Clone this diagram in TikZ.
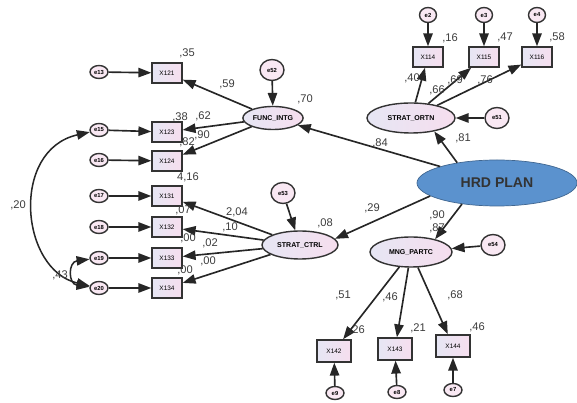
\documentclass[tikz,border=0pt]{standalone}
\usepackage{fontspec}
\setmainfont{Liberation Sans}
\usepackage{tikz}
\usetikzlibrary{shapes.geometric, arrows.meta, calc, positioning}
\definecolor{semblue}{RGB}{91,146,206}
\definecolor{semlav}{RGB}{230,230,244}
\definecolor{sempink}{RGB}{246,222,238}
\definecolor{semgrey}{RGB}{60,60,60}
\tikzset{obs/.style={draw=black!80, line width=1.2pt, rectangle, minimum width=0.9cm, minimum height=0.6cm, left color=semlav, right color=sempink, inner sep=1pt, font=\fontsize{5.5}{6}\selectfont}}
\tikzset{bigobs/.style={obs, minimum width=1.02cm, minimum height=0.66cm}}
\tikzset{err/.style={draw=black!80, line width=1.2pt, ellipse, minimum width=0.54cm, minimum height=0.39cm, inner sep=0pt, fill=sempink!70!white, font=\bfseries\fontsize{5}{6}\selectfont}}
\tikzset{bigerr/.style={err, minimum width=0.72cm, minimum height=0.63cm}}
\tikzset{lat/.style={draw=black!80, line width=1.2pt, ellipse, left color=semlav, right color=sempink, inner sep=1pt, font=\bfseries\fontsize{6}{7}\selectfont}}
\tikzset{arr/.style={color=black!85, line width=1.4pt, -{Triangle[length=11pt, width=8pt]}}}
\tikzset{cov/.style={color=black!85, line width=1.3pt, {Triangle[length=11pt, width=8pt]}-{Triangle[length=11pt, width=8pt]}}}
\tikzset{coef/.style={text=semgrey, font=\fontsize{9.5}{10}\selectfont, inner sep=0pt}}

\begin{document}
\begin{tikzpicture}[x=0.03cm, y=-0.03cm]
        \useasboundingbox (0,0) rectangle (577,403);

        % left indicators
        \node[obs] (X121) at (167,  73) {X121};
        \node[obs] (X123) at (167, 132) {X123};
        \node[obs] (X124) at (167, 161) {X124};
        \node[obs] (X131) at (167, 196) {X131};
        \node[obs] (X132) at (167, 227) {X132};
        \node[obs] (X133) at (167, 258) {X133};
        \node[obs] (X134) at (167, 288) {X134};
        \node[err] (e13) at (99,  72) {e13};
        \node[err] (e15) at (99, 130) {e15};
        \node[err] (e16) at (99, 160) {e16};
        \node[err] (e17) at (99, 196) {e17};
        \node[err] (e18) at (99, 227) {e18};
        \node[err] (e19) at (99, 258) {e19};
        \node[err] (e20) at (99, 288) {e20};

        % latent factors
        \node[lat, minimum width=1.8cm, minimum height=0.69cm] (Nfunc) at (273, 118) {FUNC\_INTG};
        \node[lat, minimum width=2.28cm, minimum height=0.84cm] (Nctrl) at (300, 245) {STRAT\_CTRL};
        \node[lat, minimum width=2.64cm, minimum height=0.9cm] (Nortn) at (411, 118) {STRAT\_ORTN};
        \node[lat, minimum width=2.46cm, minimum height=0.9cm] (Nmng) at (411, 252) {MNG\_PARTC};
        \node[draw=semblue!70!black, line width=0.6pt, ellipse, fill=semblue, minimum width=4.8cm, minimum height=1.38cm,
              text=black!80, font=\bfseries\fontsize{12}{13}\selectfont] (Nhrd) at (497, 183) {HRD PLAN};
        \node[bigerr] (e52) at (272,  70) {e52};
        \node[bigerr] (e53) at (283, 193) {e53};
        \node[bigerr] (e51) at (497, 118) {e51};
        \node[bigerr] (e54) at (493, 245) {e54};

        % top and bottom indicators
        \node[obs] (X114) at (428, 57) {X114};
        \node[obs] (X115) at (484, 57) {X115};
        \node[obs] (X116) at (537, 57) {X116};
        \node[err, minimum width=0.51cm, minimum height=0.45cm] (e2) at (428, 15) {e2};
        \node[err, minimum width=0.51cm, minimum height=0.45cm] (e3) at (484, 15) {e3};
        \node[err, minimum width=0.51cm, minimum height=0.45cm] (e4) at (537, 15) {e4};
        \node[bigobs] (X142) at (334, 351) {X142};
        \node[bigobs] (X143) at (395, 349) {X143};
        \node[bigobs] (X144) at (453, 346) {X144};
        \node[err] (e9) at (335, 393) {e9};
        \node[err] (e8) at (397, 392) {e8};
        \node[err] (e7) at (453, 390) {e7};

        \draw [arr] (e13) -- (X121);
        \draw [arr] (e15) -- (X123);
        \draw [arr] (e16) -- (X124);
        \draw [arr] (e17) -- (X131);
        \draw [arr] (e18) -- (X132);
        \draw [arr] (e19) -- (X133);
        \draw [arr] (e20) -- (X134);
        \draw [arr] (Nfunc) -- (X121);
        \draw [arr] (Nfunc) -- (X123);
        \draw [arr] (Nfunc) -- (X124);
        \draw [arr] (Nctrl) -- (X131);
        \draw [arr] (Nctrl) -- (X132);
        \draw [arr] (Nctrl) -- (X133);
        \draw [arr] (Nctrl) -- (X134);
        \draw [arr] (e52) -- (Nfunc);
        \draw [arr] (e53) -- (Nctrl);
        \draw [arr] (e51) -- (Nortn);
        \draw [arr] (e54) -- (Nmng);
        \draw [arr] (Nhrd) -- (Nfunc);
        \draw [arr] (Nhrd.191) -- (Nctrl.10);
        \draw [arr] (Nhrd.153) -- (Nortn.330);
        \draw [arr] (Nhrd.211) -- (Nmng.28);
        \draw [arr] (Nortn) -- (X114);
        \draw [arr] (Nortn) -- (X115);
        \draw [arr] (Nortn) -- (X116);
        \draw [arr] (e2) -- (X114);
        \draw [arr] (e3) -- (X115);
        \draw [arr] (e4) -- (X116);
        \draw [arr] (Nmng) -- (X142);
        \draw [arr] (Nmng) -- (X143);
        \draw [arr] (Nmng) -- (X144);
        \draw [arr] (e9) -- (X142);
        \draw [arr] (e8) -- (X143);
        \draw [arr] (e7) -- (X144);
        \draw [cov] (e15) .. controls (10, 150) and (20, 270) .. (e20);
        \draw [cov] (e19) .. controls (68, 262) and (68, 284) .. (e20);

        % estimates
        \node[coef] (rX121) at (187,  53) {,35};
        \node[coef] (rX123) at (180, 117) {,38};
        \node[coef] (rX124) at (187, 142) {,82};
        \node[coef] (rX131) at (188, 177) {4,16};
        \node[coef] (rX132) at (183, 210) {,07};
        \node[coef] (rX133) at (188, 238) {,00};
        \node[coef] (rX134) at (185, 270) {,00};
        \node[coef] (wX121) at (227,  84) {,59};
        \node[coef] (wX123) at (203, 116) {,62};
        \node[coef] (wX124) at (202, 135) {,90};
        \node[coef] (wX131) at (237, 212) {2,04};
        \node[coef] (wX132) at (230, 227) {,10};
        \node[coef] (wX133) at (210, 243) {,02};
        \node[coef] (wX134) at (208, 261) {,00};
        \node[coef] (rFunc) at (305,  99) {,70};
        \node[coef] (rCtrl) at (325, 223) {,08};
        \node[coef] (wFunc) at (380, 143) {,84};
        \node[coef] (wCtrl) at (372, 208) {,29};
        \node[coef] (wOrtn) at (463, 138) {,81};
        \node[coef] (rOrtn) at (437,  90) {,66};
        \node[coef] (wMng)  at (437, 215) {,90};
        \node[coef] (rMng)  at (437, 228) {,87};
        \node[coef] (rX114) at (450,  38) {,16};
        \node[coef] (rX115) at (505,  37) {,47};
        \node[coef] (rX116) at (557,  37) {,58};
        \node[coef] (wX114) at (412,  78) {,40};
        \node[coef] (wX115) at (455,  80) {,69};
        \node[coef] (wX116) at (485,  80) {,76};
        \node[coef] (wX142) at (343, 295) {,51};
        \node[coef] (wX143) at (390, 297) {,46};
        \node[coef] (wX144) at (455, 295) {,68};
        \node[coef] (rX142) at (357, 330) {,26};
        \node[coef] (rX143) at (418, 328) {,21};
        \node[coef] (rX144) at (477, 327) {,46};
        \node[coef] (c20) at (18, 205) {,20};
        \node[coef] (c43) at (60, 275) {,43};
\end{tikzpicture}
\end{document}
